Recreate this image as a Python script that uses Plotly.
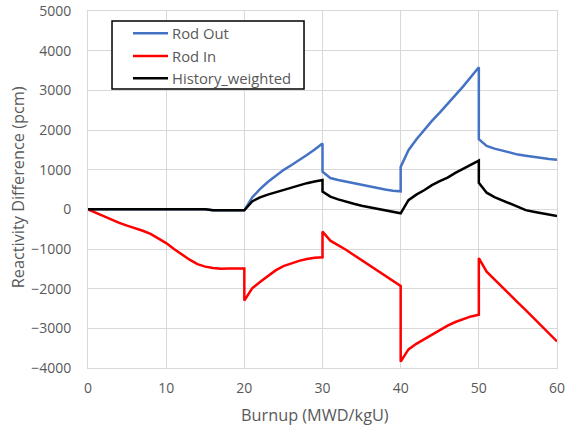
import plotly.graph_objects as go

# Burnup (MWD/kgU) - duplicated values mark the discontinuities
burnup = [0, 1, 2, 3, 4, 5, 6, 7, 8, 9, 10, 11, 12, 13, 14, 15, 16, 17, 18, 19, 20,
          20, 21, 22, 23, 24, 25, 26, 27, 28, 29, 30,
          30, 31, 32, 33, 34, 35, 36, 37, 38, 39, 40,
          40, 41, 42, 43, 44, 45, 46, 47, 48, 49, 50,
          50, 51, 52, 53, 54, 55, 56, 57, 58, 59, 60]

rod_out = [0, 0, 0, 0, 0, 0, 0, 0, 0, 0, 0, 0, 0, 0, 0, 0, -25, -25, -25, -25, -25,
           -25, 300, 510, 690, 850, 990, 1110, 1230, 1370, 1510, 1660,
           950, 790, 740, 700, 650, 610, 570, 540, 500, 470, 455,
           1070, 1490, 1760, 2000, 2230, 2440, 2650, 2880, 3100, 3330, 3580,
           1770, 1600, 1530, 1480, 1420, 1380, 1350, 1320, 1290, 1270, 1250]

rod_in = [0, -90, -180, -260, -340, -410, -470, -540, -620, -730, -850, -1000, -1140, -1270, -1380,
          -1445, -1480, -1495, -1490, -1490, -1490,
          -2300, -1990, -1830, -1680, -1540, -1430, -1360, -1300, -1250, -1220, -1210,
          -560, -790, -900, -1020, -1150, -1280, -1400, -1530, -1660, -1800, -1930,
          -3840, -3530, -3390, -3270, -3150, -3040, -2930, -2840, -2770, -2700, -2660,
          -1230, -1570, -1770, -1960, -2150, -2350, -2540, -2740, -2930, -3130, -3330]

history_weighted = [0, 0, 0, 0, 0, 0, 0, 0, 0, 0, 0, 0, 0, 0, 0, 0, -25, -25, -25, -25, -25,
                    -25, 200, 300, 370, 430, 490, 550, 610, 660, 700, 740,
                    450, 320, 250, 190, 140, 90, 50, 10, -30, -70, -100,
                    -100, 230, 370, 480, 610, 710, 800, 920, 1020, 1120, 1230,
                    670, 420, 310, 230, 130, 60, -20, -60, -100, -130, -170]

x_ticks = [0, 10, 20, 30, 40, 50, 60]
y_ticks = [-4000, -3000, -2000, -1000, 0, 1000, 2000, 3000, 4000, 5000]
x_title = "Burnup (MWD/kgU)"
y_title = "Reactivity Difference (pcm)"

series_names = ["Rod Out", "Rod In", "History_weighted"]
series_values = [rod_out, rod_in, history_weighted]
series_colors = ["#4472C4", "#FF0000", "#000000"]

fig = go.Figure()
for name, vals, col in zip(series_names, series_values, series_colors):
    fig.add_trace(go.Scatter(x=burnup, y=vals, mode="lines", name=name,
                             line=dict(color=col, width=2.5), showlegend=False))

font_family = "Open Sans, Liberation Sans, sans-serif"
grid = "#D9D9D9"
txt = "#595959"

# Legend drawn as a boxed key in paper coordinates (upper left of plot area)
shapes = [dict(type="rect", xref="paper", yref="paper", x0=0.0512, x1=0.4606, y0=0.7815, y1=0.972,
               line=dict(color="black", width=1.5), fillcolor="white", layer="above")]
annotations = []
row_y = [0.9375, 0.8739, 0.8115]
for name, col, yy in zip(series_names, series_colors, row_y):
    shapes.append(dict(type="line", xref="paper", yref="paper", x0=0.0959, x1=0.1706, y0=yy, y1=yy,
                       line=dict(color=col, width=2.5), layer="above"))
    annotations.append(dict(text=name, xref="paper", yref="paper", x=0.1748, y=yy, xanchor="left",
                            yanchor="middle", showarrow=False, font=dict(size=14.8, color=txt)))

annotations += [
    dict(text=x_title, xref="paper", yref="paper", x=0.485, y=0, xanchor="center",
         yanchor="middle", yshift=-47, showarrow=False, font=dict(size=16.3, color=txt)),
    dict(text=y_title, xref="paper", yref="paper", x=0, y=0.505, xanchor="center",
         yanchor="middle", xshift=-70.5, textangle=-90, showarrow=False,
         font=dict(size=16.3, color=txt)),
]

fig.update_layout(
    width=566, height=427,
    margin=dict(l=88, r=9, t=11, b=59),
    paper_bgcolor="white", plot_bgcolor="white",
    font=dict(family=font_family, size=14, color=txt),
    showlegend=False,
    shapes=shapes,
    annotations=annotations,
)
fig.update_xaxes(range=[0, 60], tickvals=x_ticks, showgrid=True, gridcolor=grid, gridwidth=1,
                 showline=True, linecolor=grid, linewidth=1, mirror=True, zeroline=False,
                 ticks="", automargin=False, ticklabelstandoff=7, ticklabeloverflow="allow",
                 tickfont=dict(size=14, color=txt))
fig.update_yaxes(range=[-4000, 5000], tickvals=y_ticks, showgrid=True, gridcolor=grid, gridwidth=1,
                 showline=True, linecolor=grid, linewidth=1, mirror=True, zeroline=False,
                 ticks="", automargin=False, ticklabelstandoff=13, ticklabeloverflow="allow",
                 tickfont=dict(size=14, color=txt))

fig.write_html("out.html", config={"displayModeBar": False},
               post_script="document.body.style.margin='0';")
